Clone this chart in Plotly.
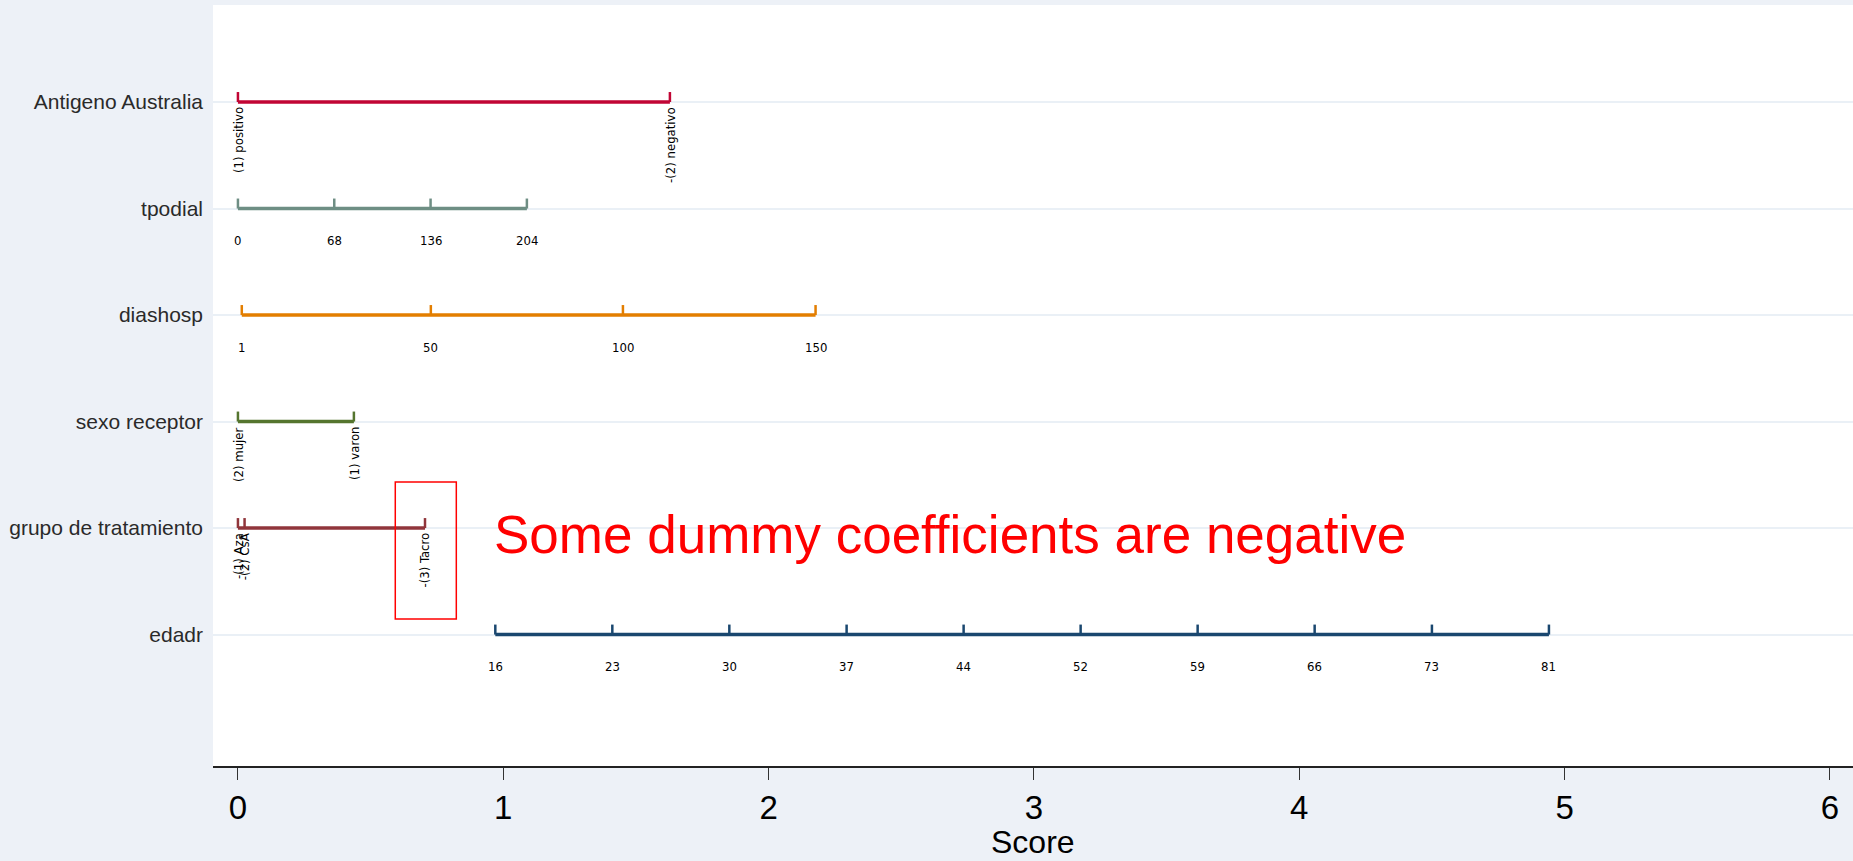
import plotly.graph_objects as go

# ---- data ----
row_names = ["edadr", "grupo de tratamiento", "sexo receptor", "diashosp", "tpodial", "Antigeno Australia"]
row_pos = [1, 2, 3, 4, 5, 6]
row_colors = ["#1A476F", "#90353B", "#55752F", "#E37E00", "#6E8E84", "#C10534"]

edadr_scores = [0.970, 1.411, 1.852, 2.294, 2.735, 3.176, 3.617, 4.058, 4.500, 4.941]
edadr_labels = ["16", "23", "30", "37", "44", "52", "59", "66", "73", "81"]

grupo_scores = [0.0, 0.025, 0.705]
grupo_labels = ["-(1) Aza", "-(2) CsA", "-(3) Tacro"]

sexo_scores = [0.0, 0.437]
sexo_labels = ["(2) mujer", "(1) varon"]

diashosp_scores = [0.0145, 0.727, 1.451, 2.177]
diashosp_labels = ["1", "50", "100", "150"]

tpodial_scores = [0.0, 0.363, 0.726, 1.089]
tpodial_labels = ["0", "68", "136", "204"]

antigeno_scores = [0.0, 1.628]
antigeno_labels = ["(1) positivo", "-(2) negativo"]

row_scores = [edadr_scores, grupo_scores, sexo_scores, diashosp_scores, tpodial_scores, antigeno_scores]
row_labels = [edadr_labels, grupo_labels, sexo_labels, diashosp_labels, tpodial_labels, antigeno_labels]
row_rotated = [False, True, True, False, False, True]

x_ticks = [0, 1, 2, 3, 4, 5, 6]

note_text = "Some dummy coefficients are negative"
note_box_x = [0.593, 0.823]
note_box_y = [1.146, 2.433]
note_x = 0.959
note_y = 1.935

# ---- figure ----
BG = "#EDF1F7"
SMALL_FONT = "Liberation Sans Narrow, Arial Narrow, DejaVu Sans Condensed, Arial, sans-serif"
MAIN_FONT = "Liberation Sans, Arial, sans-serif"

fig = go.Figure()
shapes = []
annotations = []

for name, y, color, scores, labels, rot in zip(row_names, row_pos, row_colors,
                                               row_scores, row_labels, row_rotated):
    fig.add_trace(go.Scatter(
        x=[min(scores), max(scores)], y=[y, y], mode="lines",
        line=dict(color=color, width=3.5), hoverinfo="skip", showlegend=False))
    for s, lab in zip(scores, labels):
        shapes.append(dict(type="line", xref="x", yref="y", ysizemode="pixel",
                           yanchor=y, x0=s, x1=s, y0=0, y1=10,
                           line=dict(color=color, width=2.5)))
        if rot:
            annotations.append(dict(x=s, y=y, xref="x", yref="y", text=lab,
                                    showarrow=False, textangle=-90,
                                    xanchor="center", yanchor="top", yshift=-3,
                                    font=dict(family=SMALL_FONT, size=13, color="black")))
        else:
            annotations.append(dict(x=s, y=y, xref="x", yref="y", text=lab,
                                    showarrow=False, xanchor="center", yanchor="middle",
                                    yshift=-32,
                                    font=dict(family=SMALL_FONT, size=13, color="black")))

# highlight box and note
shapes.append(dict(type="rect", xref="x", yref="y",
                   x0=note_box_x[0], x1=note_box_x[1], y0=note_box_y[0], y1=note_box_y[1],
                   line=dict(color="red", width=1.5), fillcolor="rgba(0,0,0,0)"))
annotations.append(dict(x=note_x, y=note_y, xref="x", yref="y", text=note_text,
                        showarrow=False, xanchor="left", yanchor="middle",
                        font=dict(family=MAIN_FONT, size=53, color="red")))

# x-axis title as annotation
annotations.append(dict(x=0.5, y=0, xref="paper", yref="paper", text="Score",
                        showarrow=False, xanchor="center", yanchor="bottom", yshift=-96,
                        font=dict(family=MAIN_FONT, size=32, color="black")))

fig.update_layout(
    width=1853, height=861,
    margin=dict(l=213, r=0, t=5, b=95, autoexpand=False),
    paper_bgcolor=BG, plot_bgcolor="white",
    shapes=shapes, annotations=annotations,
    showlegend=False,
    xaxis=dict(range=[-0.094, 6.087], tickvals=x_ticks, ticktext=[str(t) for t in x_ticks],
               showgrid=False, zeroline=False, automargin=False,
               showline=True, linecolor="#222222", linewidth=1.5,
               ticks="outside", ticklen=12, tickwidth=1.2, tickcolor="#333333",
               tickfont=dict(family=MAIN_FONT, size=33, color="black")),
    yaxis=dict(range=[-0.234, 6.911], tickvals=row_pos, ticktext=row_names,
               showgrid=True, gridcolor="#EAF0F6", gridwidth=2,
               zeroline=False, showline=False, ticks="", automargin=False,
               ticklabelstandoff=9,
               tickfont=dict(family=MAIN_FONT, size=21, color="#2a2a2a")),
)

fig.write_html("out.html", config={"displayModeBar": False},
               post_script="document.body.style.margin='0';document.body.style.overflow='hidden';")
